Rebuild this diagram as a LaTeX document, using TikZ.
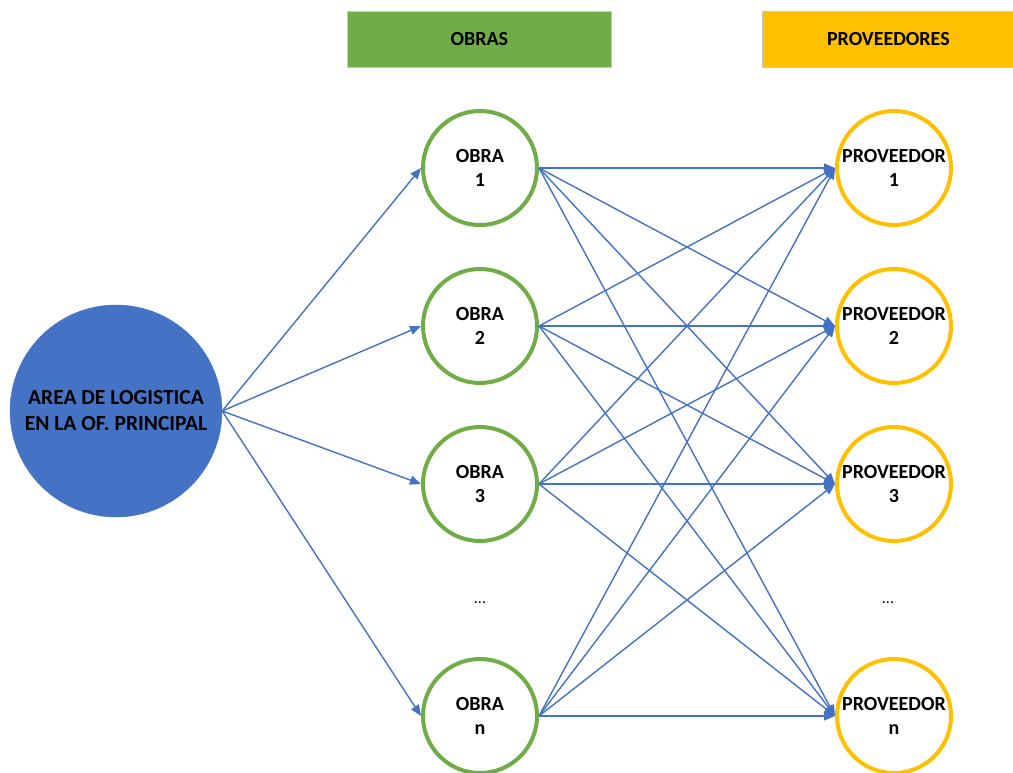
\documentclass[tikz,border=0pt]{standalone}
\usepackage{fontspec}
\setmainfont{Carlito}
\usetikzlibrary{arrows.meta}
\definecolor{lblue}{HTML}{4472C4}
\definecolor{lgreen}{HTML}{70AD47}
\definecolor{lorange}{HTML}{FFC000}
\begin{document}
\begin{tikzpicture}[x=1pt,y=-1pt,
  txt/.style={font=\fontsize{20}{24.5}\selectfont\bfseries, align=center, text=black},
  obra/.style={circle, draw=lgreen, line width=4pt, minimum size=114pt, inner sep=0pt, fill=white, txt},
  prov/.style={circle, draw=lorange, line width=4pt, minimum size=114pt, inner sep=0pt, fill=white, txt},
  conn/.style={draw=lblue, line width=1.4pt, -{Triangle[length=11pt,width=9pt]}},
  hdr/.style={draw=black!22, line width=0.8pt, txt, anchor=north west, minimum height=56pt, inner sep=0pt}]
\useasboundingbox (0,0) rectangle (1013,772);
\node[hdr, fill=lgreen, minimum width=264pt] (hobras) at (347,11) {OBRAS};
\node[hdr, fill=lorange, minimum width=252pt] (hprov) at (762,11) {PROVEEDORES};
\node[circle, fill=lblue, draw=lblue, minimum size=212pt, inner sep=0pt, txt, font=\fontsize{21.5}{26}\selectfont\bfseries] (a) at (116,411) {AREA DE LOGISTICA\\EN LA OF. PRINCIPAL};
\node[obra] (o1) at (480,168) {OBRA\\1};
\node[obra] (o2) at (480,326) {OBRA\\2};
\node[obra] (o3) at (480,484) {OBRA\\3};
\node[obra] (on) at (480,716) {OBRA\\n};
\node[prov] (p1) at (894,168) {PROVEEDOR\\1};
\node[prov] (p2) at (894,326) {PROVEEDOR\\2};
\node[prov] (p3) at (894,484) {PROVEEDOR\\3};
\node[prov] (pn) at (894,716) {PROVEEDOR\\n};
\node[font=\fontsize{16}{20}\selectfont] (d1) at (480,603) {...};
\node[font=\fontsize{16}{20}\selectfont] (d2) at (888,603) {...};
\foreach \i in {1,2,3,n} \draw[conn] (a.east) -- (o\i.west);
\foreach \i in {1,2,3,n} \foreach \j in {1,2,3,n} \draw[conn] (o\i.east) -- (p\j.west);
\end{tikzpicture}
\end{document}
